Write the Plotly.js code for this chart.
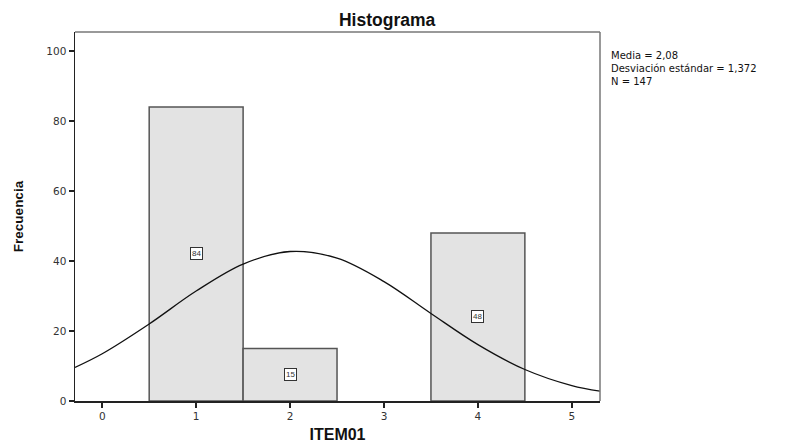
<!DOCTYPE html>
<html><head><meta charset="utf-8">
<script src="https://cdn.plot.ly/plotly-3.0.1.min.js"></script>
<style>html,body{margin:0;padding:0;background:#fff}#chart{width:790px;height:444px}</style>
</head><body><div id="chart"></div>
<script>
const categories = [1, 2, 4];
const frequencies = [84, 15, 48];
const curveX = [-0.29, 0, 0.5, 1, 1.5, 2, 2.5, 3, 3.5, 4, 4.5, 5, 5.3];
const curveY = [9.6, 13.5, 22.0, 31.4, 39.1, 42.7, 40.8, 34.1, 25.0, 16.1, 9.0, 4.4, 2.8];
const statsLines = ["Media = 2,08", "Desviación estándar = 1,372", "N = 147"];
const xTicks = [0, 1, 2, 3, 4, 5];
const yTicks = [0, 20, 40, 60, 80, 100];

const font = "Liberation Sans, Arial, sans-serif";
const wide = "DejaVu Sans, Liberation Sans, sans-serif";
const traces = [
  {type: 'bar', x: categories, y: frequencies, width: 1,
   marker: {color: '#e3e3e3', line: {color: '#555', width: 1.5}}, hoverinfo: 'none'},
  {type: 'scatter', mode: 'lines', x: curveX, y: curveY,
   line: {color: '#111', width: 1.3, shape: 'spline'}, hoverinfo: 'none'}
];
const W = 790, H = 444, L = 75, R = 190, T = 32, B = 43;
const annotations = categories.map((c, i) => ({
  x: c, y: frequencies[i] / 2, xref: 'x', yref: 'y', text: String(frequencies[i]),
  showarrow: false, font: {family: font, size: 8, color: '#333'},
  bgcolor: '#fff', bordercolor: '#333', borderwidth: 1, borderpad: 1
}));
annotations.push({
  x: (609 - L) / (W - L - R), y: 1 - (48 - T) / (H - T - B), xref: 'paper', yref: 'paper',
  text: statsLines.join('<br>'), showarrow: false, align: 'left',
  xanchor: 'left', yanchor: 'top', font: {family: wide, size: 10, color: '#111'}
});

const layout = {
  width: W, height: H, margin: {l: L, r: R, t: T, b: B},
  paper_bgcolor: '#fff', plot_bgcolor: '#fff', showlegend: false, bargap: 0,
  title: {text: '<b>Histograma</b>', x: 0.49, xanchor: 'center', y: 0.955, yanchor: 'middle',
          font: {family: font, size: 17.5, color: '#111'}},
  xaxis: {range: [-0.29, 5.3], tickvals: xTicks, ticktext: xTicks.map(String),
          showgrid: false, zeroline: false, showline: true, linecolor: '#222', linewidth: 1.5,
          ticks: 'outside', ticklen: 5, tickwidth: 1.5, tickcolor: '#222',
          tickfont: {family: wide, size: 10.5, color: '#333'},
          title: {text: '<b>ITEM01</b>', standoff: 7, font: {family: font, size: 16, color: '#111'}}},
  yaxis: {range: [0, 105.4], tickvals: yTicks, ticktext: yTicks.map(String),
          showgrid: false, zeroline: false, showline: true, linecolor: '#222', linewidth: 1.5,
          ticks: 'outside', ticklen: 5, tickwidth: 1.5, tickcolor: '#222',
          tickfont: {family: wide, size: 10.5, color: '#333'},
          title: {text: '<b>Frecuencia</b>', standoff: 19, font: {family: font, size: 13.5, color: '#111'}}},
  shapes: [
    {type: 'line', xref: 'paper', yref: 'paper', x0: 0, x1: 1, y0: 1, y1: 1, line: {color: '#777', width: 1.5}},
    {type: 'line', xref: 'paper', yref: 'paper', x0: 1, x1: 1, y0: 0, y1: 1, line: {color: '#777', width: 1.5}}
  ],
  annotations: annotations
};
Plotly.newPlot('chart', traces, layout, {displayModeBar: false, staticPlot: true});
</script></body></html>
